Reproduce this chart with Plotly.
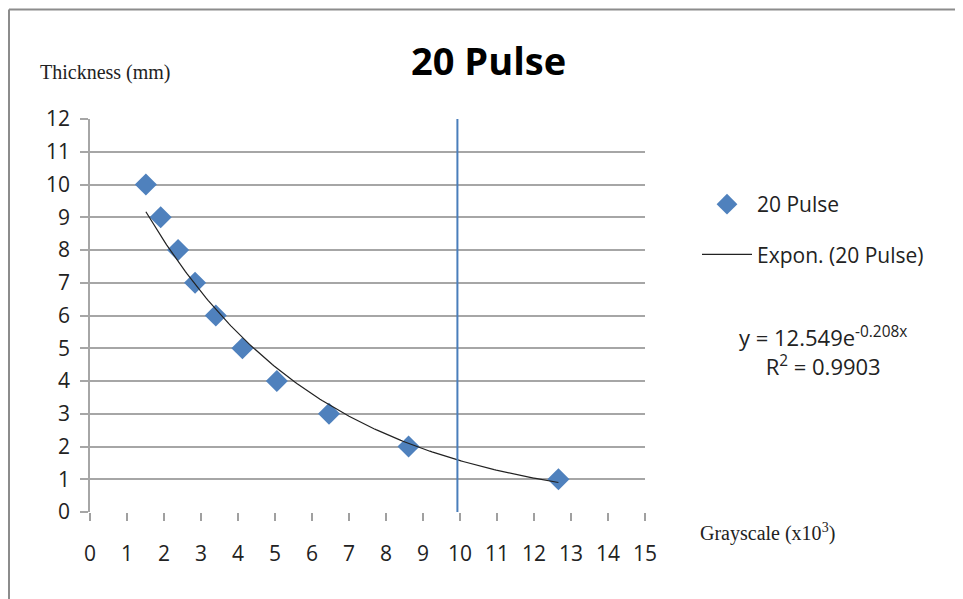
import plotly.graph_objects as go
import numpy as np

# Data
grayscale = [1.51, 1.91, 2.38, 2.84, 3.40, 4.12, 5.05, 6.46, 8.61, 12.66]
thickness = [10, 9, 8, 7, 6, 5, 4, 3, 2, 1]
series_name = "20 Pulse"
trend_name = "Expon. (20 Pulse)"
fit_a = 12.549
fit_b = -0.208
r_squared = 0.9903
marker_line_x = 9.93
x_ticks = list(range(0, 16))
y_ticks = list(range(0, 13))

# plot area in reference pixels; page body adds an 8px offset
OFF = 8
L, R, T, B = 90, 645, 119, 512
W, H = 963 - OFF, 599 - OFF
pw, ph = R - L, B - T

def px(x):
    return (x - L) / pw

def py(y):
    return (B - y) / ph

trend_x = np.linspace(min(grayscale), max(grayscale), 200)
trend_y = fit_a * np.exp(fit_b * trend_x)

fig = go.Figure()
fig.add_trace(go.Scatter(
    x=grayscale, y=thickness, mode="markers", name=series_name,
    marker=dict(symbol="diamond", size=17, color="#4F81BD"),
    legendgroup="a",
))
fig.add_trace(go.Scatter(
    x=trend_x, y=trend_y, mode="lines", name=trend_name,
    line=dict(color="#222222", width=1.2),
    legendgroup="b",
))

fig.add_shape(type="line", xref="x", yref="y",
              x0=marker_line_x, x1=marker_line_x, y0=0, y1=12,
              line=dict(color="#4A7EBB", width=2))

# outer frame (left and top edges)
fig.add_shape(type="line", xref="paper", yref="paper",
              x0=px(9), x1=px(9), y0=py(9.5), y1=py(620),
              line=dict(color="#8c8c8c", width=2))
fig.add_shape(type="line", xref="paper", yref="paper",
              x0=px(9), x1=px(980), y0=py(9.5), y1=py(9.5),
              line=dict(color="#8c8c8c", width=2))

font_main = "Open Sans, Noto Sans, sans-serif"
font_serif = "Liberation Serif, serif"

fig.add_annotation(text="<b>20 Pulse</b>", xref="paper", yref="paper",
                   x=px(488), y=py(60), xanchor="center", yanchor="middle",
                   showarrow=False,
                   font=dict(family=font_main, size=38, color="#000000"))
fig.add_annotation(text="Thickness (mm)", xref="paper", yref="paper",
                   x=px(38), y=py(73), xanchor="left", yanchor="middle",
                   showarrow=False,
                   font=dict(family=font_serif, size=20, color="#222222"))
fig.add_annotation(text="Grayscale (x10<sup>3</sup>)", xref="paper", yref="paper",
                   x=px(698), y=py(532), xanchor="left", yanchor="middle",
                   showarrow=False,
                   font=dict(family=font_serif, size=20, color="#222222"))
fig.add_annotation(text=f"y = {fit_a}e<sup>{fit_b}x</sup><br>R<sup>2</sup> = {r_squared}",
                   xref="paper", yref="paper",
                   x=px(823), y=py(351), xanchor="center", yanchor="middle",
                   showarrow=False, align="center",
                   font=dict(family=font_main, size=22, color="#222222"))

fig.update_layout(
    width=W, height=H,
    margin=dict(l=L - OFF, r=W - (R - OFF), t=T - OFF, b=H - (B - OFF), pad=0),
    plot_bgcolor="white", paper_bgcolor="white",
    showlegend=True,
    legend=dict(x=px(697), y=py(184), xanchor="left", yanchor="top",
                font=dict(family=font_main, size=21, color="#222222"),
                itemwidth=50,
                tracegroupgap=20, bgcolor="rgba(0,0,0,0)"),
    font=dict(family=font_main, size=21, color="#222222"),
)
fig.update_xaxes(
    range=[0, 15], tickmode="array", tickvals=x_ticks,
    ticktext=[str(v) for v in x_ticks],
    showgrid=False, zeroline=False, showline=False,
    ticks="outside", ticklen=8, tickcolor="#a0a0a0", tickwidth=1.5,
    ticklabelstandoff=15,
    tickfont=dict(family=font_main, size=21, color="#222222"),
)
fig.update_yaxes(
    range=[0, 12], tickmode="array", tickvals=y_ticks,
    ticktext=[str(v) for v in y_ticks],
    showgrid=True, gridcolor="#a6a6a6", gridwidth=1.5,
    zeroline=False, showline=True, linecolor="#a6a6a6", linewidth=1.5,
    ticks="outside", ticklen=8, tickcolor="#a6a6a6", tickwidth=1.5,
    ticklabelstandoff=6,
    tickfont=dict(family=font_main, size=21, color="#222222"),
)

fig.write_html("out.html")
